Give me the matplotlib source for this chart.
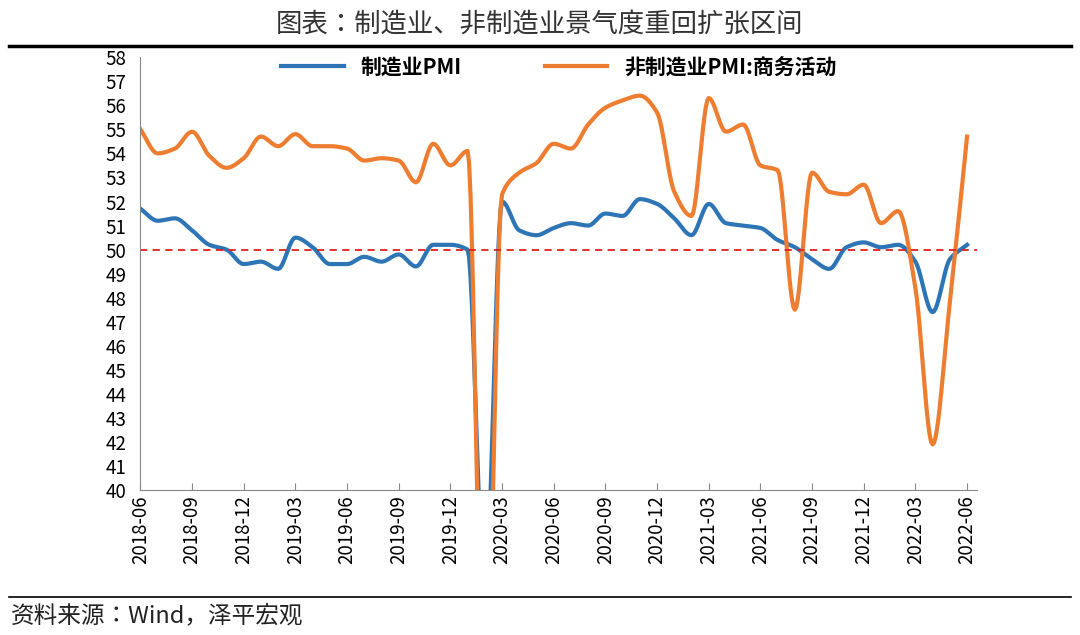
import matplotlib
matplotlib.use('Agg')
import matplotlib.pyplot as plt
from matplotlib import font_manager
import numpy as np
import pandas as pd

cjk = [f for f in font_manager.findSystemFonts() if 'CJK' in f or 'cjk' in f.lower()]
for f in cjk:
    try:
        font_manager.fontManager.addfont(f)
    except Exception:
        pass
names = sorted({font_manager.FontProperties(fname=f).get_name() for f in cjk})
cjk_name = next((n for n in names if 'SC' in n), names[0] if names else 'DejaVu Sans')
plt.rcParams['font.family'] = [cjk_name, 'DejaVu Sans']
plt.rcParams['axes.unicode_minus'] = False

months = pd.date_range('2018-06-01', '2022-06-01', freq='MS')
mfg_pmi = [51.7, 51.2, 51.3, 50.8, 50.2, 50.0, 49.4, 49.5, 49.2, 50.5, 50.1, 49.4,
           49.4, 49.7, 49.5, 49.8, 49.3, 50.2, 50.2, 50.0, 35.7, 52.0, 50.8, 50.6,
           50.9, 51.1, 51.0, 51.5, 51.4, 52.1, 51.9, 51.3, 50.6, 51.9, 51.1, 51.0,
           50.9, 50.4, 50.1, 49.6, 49.2, 50.1, 50.3, 50.1, 50.2, 49.5, 47.4, 49.6, 50.2]
nonmfg_pmi = [55.0, 54.0, 54.2, 54.9, 53.9, 53.4, 53.8, 54.7, 54.3, 54.8, 54.3, 54.3,
              54.2, 53.7, 53.8, 53.7, 52.8, 54.4, 53.5, 54.1, 29.6, 52.3, 53.2, 53.6,
              54.4, 54.2, 55.2, 55.9, 56.2, 56.4, 55.7, 52.4, 51.4, 56.3, 54.9, 55.2,
              53.5, 53.3, 47.5, 53.2, 52.4, 52.3, 52.7, 51.1, 51.6, 48.4, 41.9, 47.8, 54.7]
tick_labels = [d.strftime('%Y-%m') for d in months[::3]]


def smooth(y, n=12):
    # monotone cubic (Fritsch-Carlson) so the big drop doesn't overshoot
    y = np.asarray(y, float)
    d = np.diff(y)
    m = np.zeros_like(y)
    m[0], m[-1] = d[0], d[-1]
    for i in range(1, len(y) - 1):
        if d[i - 1] * d[i] > 0:
            m[i] = 2 / (1 / d[i - 1] + 1 / d[i])
    xs, ys = [], []
    t = np.linspace(0, 1, n, endpoint=False)
    h00 = 2 * t**3 - 3 * t**2 + 1
    h10 = t**3 - 2 * t**2 + t
    h01 = -2 * t**3 + 3 * t**2
    h11 = t**3 - t**2
    for i in range(len(y) - 1):
        xs.append(i + t)
        ys.append(h00 * y[i] + h10 * m[i] + h01 * y[i + 1] + h11 * m[i + 1])
    xs.append([len(y) - 1])
    ys.append([y[-1]])
    return np.concatenate(xs), np.concatenate(ys)


fig = plt.figure(figsize=(10.8, 6.35), dpi=100)
ax = fig.add_axes([0.130, 0.228, 0.775, 0.682])

BLUE, ORANGE = '#2E75B6', '#ED7D31'
x1, y1 = smooth(mfg_pmi)
x2, y2 = smooth(nonmfg_pmi)
ax.plot(x1, y1, color=BLUE, lw=3, label='制造业PMI')
ax.plot(x2, y2, color=ORANGE, lw=3, label='非制造业PMI:商务活动')
ax.axhline(50, color='#E02020', lw=1.3, ls=(0, (4, 3)))

ax.set_ylim(40, 58)
ax.set_xlim(0, 48.6)
ax.set_yticks(range(40, 59))
ax.tick_params(axis='y', labelsize=13.5, length=0, pad=10)
ax.set_xticks(range(0, 49, 3))
ax.set_xticklabels(tick_labels, rotation=90, fontsize=13.5)
ax.tick_params(axis='x', length=5, direction='in', color='#888888')
for s in ['top', 'right']:
    ax.spines[s].set_visible(False)
for s in ['left', 'bottom']:
    ax.spines[s].set_color('#888888')

ax.legend(loc='upper center', ncol=2, frameon=False, prop={'size': 15, 'weight': 'bold'},
          bbox_to_anchor=(0.5, 1.045), columnspacing=4, handlelength=3)

fig.text(0.5, 0.962, '图表：制造业、非制造业景气度重回扩张区间', ha='center', va='center',
         fontsize=19, color='#333333')
fig.add_artist(plt.Line2D([0.008, 0.992], [0.928, 0.928], color='black', lw=2.5))
fig.add_artist(plt.Line2D([0.008, 0.992], [0.06, 0.06], color='black', lw=1.2))
fig.text(0.01, 0.03, '资料来源：Wind，泽平宏观', ha='left', va='center',
         fontsize=17, style='italic', color='#222222')

fig.savefig('out.png')
